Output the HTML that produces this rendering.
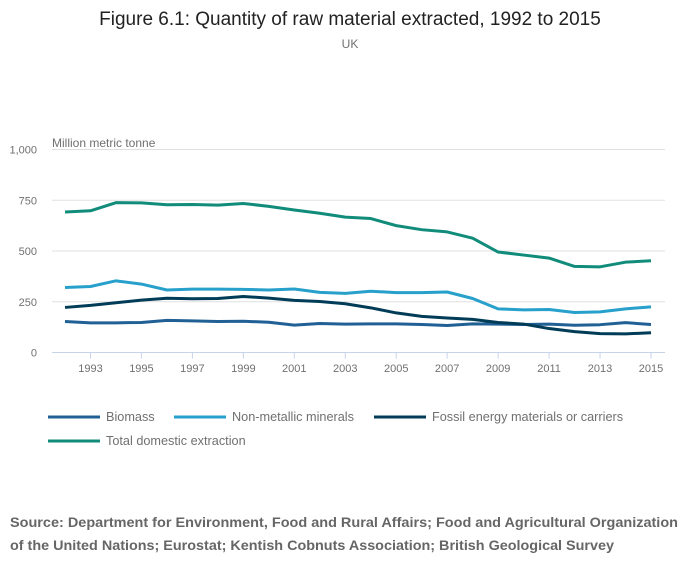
<!DOCTYPE html>
<html><head><meta charset="utf-8"><style>
html,body{margin:0;padding:0;background:#fff;}
svg{display:block;font-family:"Liberation Sans",sans-serif;}
</style></head><body>
<svg id="chart" width="700" height="574">
<text x="350" y="25" text-anchor="middle" font-size="19" fill="#222">Figure 6.1: Quantity of raw material extracted, 1992 to 2015</text>
<text x="350" y="48" text-anchor="middle" font-size="12" fill="#707070">UK</text>
<text x="52" y="147" font-size="12" fill="#707070">Million metric tonne</text>
<g id="grid"></g><g id="axes"></g><g id="lines"></g><g id="legend"></g>
<text x="10" y="527" font-size="14" font-weight="bold" fill="#666" textLength="668" lengthAdjust="spacingAndGlyphs">Source: Department for Environment, Food and Rural Affairs; Food and Agricultural Organization</text>
<text x="10" y="550" font-size="14" font-weight="bold" fill="#666" textLength="604" lengthAdjust="spacingAndGlyphs">of the United Nations; Eurostat; Kentish Cobnuts Association; British Geological Survey</text>
</svg>
<script>
const years=[1992,1993,1994,1995,1996,1997,1998,1999,2000,2001,2002,2003,2004,2005,2006,2007,2008,2009,2010,2011,2012,2013,2014,2015];
const biomass=[153,146,146,148,158,156,153,154,149,135,143,140,141,141,138,133,141,140,138,140,134,137,147,138];
const nonMetallic=[320,325,353,337,308,312,312,311,308,313,296,291,302,295,295,298,266,215,210,212,197,200,215,225];
const fossil=[222,232,245,258,267,265,266,276,268,257,251,240,220,195,178,170,163,148,140,118,103,93,92,97];
const total=[692,698,738,737,728,729,726,734,720,702,686,667,660,625,605,594,563,495,480,465,424,422,445,452];
const yTicks=[0,250,500,750,1000];
const yTickLabels=["0","250","500","750","1,000"];
const xTickYears=[1993,1995,1997,1999,2001,2003,2005,2007,2009,2011,2013,2015];
const seriesNames=["Biomass","Non-metallic minerals","Fossil energy materials or carriers","Total domestic extraction"];
const seriesColors=["#206095","#27a0cc","#003c57","#118c7b"];
const NS="http://www.w3.org/2000/svg";
const X=v=>65+(v-1992)*(651-65)/23;
const Y=v=>352.5-v*0.203;
function mk(tag,parent,attrs){const e=document.createElementNS(NS,tag);for(const k in attrs)e.setAttribute(k,attrs[k]);document.getElementById(parent).appendChild(e);return e;}
yTicks.forEach((t,i)=>{
 if(t>0){const g=mk('line','grid',{x1:52,x2:665,y1:Y(t),y2:Y(t),stroke:'#e0e0e0','stroke-width':1});
 
 }
 const l=mk('text','axes',{x:37,y:Y(t)+4,'text-anchor':'end','font-size':11,fill:'#707070'});
 
 
 l.textContent=yTickLabels[i];
});
const ax=mk('line','axes',{x1:52,x2:665,y1:Y(0),y2:Y(0),stroke:'#c6d3e8','stroke-width':1});


xTickYears.forEach(yr=>{
 const tk=mk('line','axes',{x1:X(yr),x2:X(yr),y1:Y(0),y2:Y(0)+6,stroke:'#c6d3e8'});
 
 
 const l=mk('text','axes',{x:X(yr),y:372,'text-anchor':'middle','font-size':11,fill:'#707070'});
 
 
 l.textContent=yr;
});
[biomass,nonMetallic,fossil,total].forEach((s,i)=>{
 const p=mk('polyline','lines',{points:s.map((v,j)=>X(years[j])+','+Y(v)).join(' '),fill:'none',stroke:seriesColors[i],'stroke-width':3,'stroke-linejoin':'round'});
 
 
});
const legPos=[[48,417],[174,417],[374,417],[48,441]];
seriesNames.forEach((n,i)=>{
 const [lx,ly]=legPos[i];
 const sw=mk('line','legend',{x1:lx,x2:lx+52,y1:ly,y2:ly,stroke:seriesColors[i],'stroke-width':3});
 
 
 const t=mk('text','legend',{x:lx+58,y:ly+4,'font-size':12.7,fill:'#707070'});
 
 
 t.textContent=n;
});
</script>
</body></html>
